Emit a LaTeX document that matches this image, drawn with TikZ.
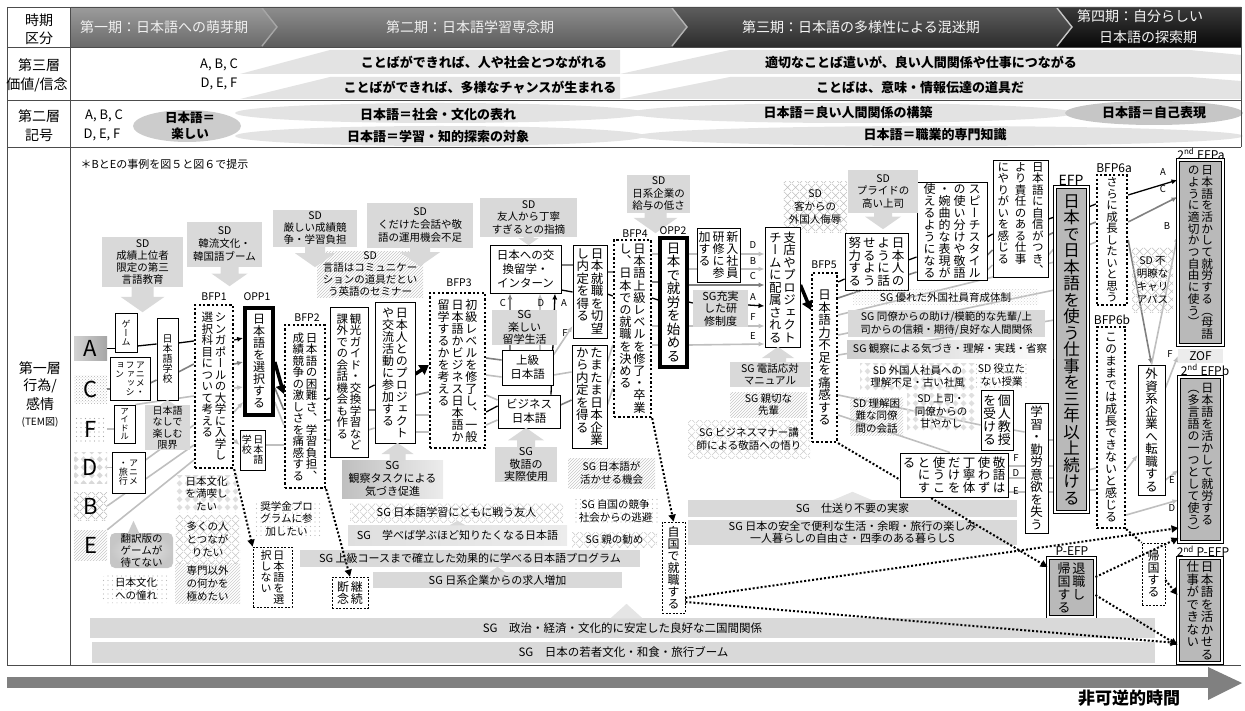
\documentclass[tikz,border=0pt]{standalone}
\usepackage{fontspec}
\setmainfont{Noto Sans CJK JP}
\newfontfamily\jv{Noto Sans CJK JP}[RawFeature=+vert]
\usetikzlibrary{arrows.meta,calc,patterns}
\pgfdeclarelayer{back}
\pgfdeclarelayer{lines}
\pgfsetlayers{back,lines,main}
\pgfdeclarepatternformonly{sdots}{\pgfpoint{-1pt}{-1pt}}{\pgfpoint{1pt}{1pt}}{\pgfpoint{4.5pt}{4.5pt}}{\pgfpathcircle{\pgfpointorigin}{0.6pt}\pgfusepath{fill}}
\pgfdeclarepatternformonly{diam}{\pgfpointorigin}{\pgfpoint{8pt}{8pt}}{\pgfpoint{8pt}{8pt}}{\pgfpathmoveto{\pgfpoint{4pt}{0.7pt}}\pgfpathlineto{\pgfpoint{7.3pt}{4pt}}\pgfpathlineto{\pgfpoint{4pt}{7.3pt}}\pgfpathlineto{\pgfpoint{0.7pt}{4pt}}\pgfpathclose\pgfusepath{fill}}
\pgfdeclarepatternformonly{xh}{\pgfpointorigin}{\pgfpoint{8pt}{8pt}}{\pgfpoint{8pt}{8pt}}{\pgfsetlinewidth{0.5pt}\pgfpathmoveto{\pgfpointorigin}\pgfpathlineto{\pgfpoint{8pt}{8pt}}\pgfpathmoveto{\pgfpoint{0pt}{8pt}}\pgfpathlineto{\pgfpoint{8pt}{0pt}}\pgfusepath{stroke}}
\definecolor{hAt}{HTML}{9C9C9C}\definecolor{hAb}{HTML}{6A6A6A}
\definecolor{hBt}{HTML}{8E8E8E}\definecolor{hBb}{HTML}{5C5C5C}
\definecolor{hCt}{HTML}{5E5E5E}\definecolor{hCb}{HTML}{2C2C2C}
\definecolor{hDt}{HTML}{3A3A3A}\definecolor{hDb}{HTML}{080808}
\colorlet{sdc}{gray!30}
\colorlet{bandc}{gray!22}
\def\vcwf{1.15}
\def\vcaux#1{\ifx\relax#1\else\hbox to \vcwf em{\hss#1\hss}\expandafter\vcaux\fi}
\newcommand\vc[1]{\vtop{\lineskiplimit=-16000pt \lineskip=0pt \vcaux#1\relax}}
\newcommand\bxn[7]{\node[#6,minimum width={(#4)-(#2)},minimum height={(#5)-(#3)}] (#1) at ({((#2)+(#4))/2},{((#3)+(#5))/2}) {#7};}
\newcommand\darr[4]{\fill[sdc] ($(#1.south)+({#2-#4},-0.5)$) -- ($(#1.south)+({#2-#4},{#3-1.4*#4})$) -- ($(#1.south)+({#2-2*#4},{#3-1.4*#4})$) -- ($(#1.south)+(#2,#3)$) -- ($(#1.south)+({#2+2*#4},{#3-1.4*#4})$) -- ($(#1.south)+({#2+#4},{#3-1.4*#4})$) -- ($(#1.south)+({#2+#4},-0.5)$) -- cycle;}
\newcommand\uarr[4]{\fill[sdc] ($(#1.north)+({#2-#4},0.5)$) -- ($(#1.north)+({#2-#4},{-(#3-1.4*#4)})$) -- ($(#1.north)+({#2-2*#4},{-(#3-1.4*#4)})$) -- ($(#1.north)+(#2,-#3)$) -- ($(#1.north)+({#2+2*#4},{-(#3-1.4*#4)})$) -- ($(#1.north)+({#2+#4},{-(#3-1.4*#4)})$) -- ($(#1.north)+({#2+#4},0.5)$) -- cycle;}
\tikzset{
 fs/.style={font=\fontsize{#1}{#1}\selectfont,inner sep=0.5pt},
 hts/.style 2 args={font=\fontsize{#1}{#2}\selectfont,align=center,inner sep=0.5pt},
 vt/.style={font=\jv\fontsize{#1}{#1}\selectfont,inner sep=0.5pt},
 wb/.style={draw,fill=white,line width=0.9pt},
 bfp/.style={draw,fill=white,line width=2.3pt,dash pattern=on 2.3pt off 2.1pt},
 opp/.style={draw,fill=white,line width=3.6pt},
 dsh/.style={draw,fill=white,line width=0.7pt,dash pattern=on 2pt off 1.5pt},
 efpst/.style={draw,fill=gray!55,double=white,double distance=1.4pt,line width=1pt},
 sdfill/.style={fill=sdc},
 lbl/.style={font=\fontsize{#1}{#1}\selectfont,inner sep=0pt},
 lA/.style={black,line width=1.3pt},
 lC/.style={gray,line width=1.6pt},
 lL/.style={gray!50,line width=1.6pt},
 atip/.style={-{Latex[length=6pt,width=5pt]}},
 bigarr/.style={black,line width=3.5pt,-{Triangle[length=9pt,width=11pt]}},
 dotl/.style={black,line width=2pt,dash pattern=on 2pt off 2pt},
 dtip/.style={-{Triangle[length=7pt,width=7pt]}},
 rowt/.style={font=\bfseries\fontsize{13}{13}\selectfont,inner sep=0pt},
 colt/.style={font=\fontsize{14}{14}\selectfont,inner sep=0pt}
}
\begin{document}
\begin{tikzpicture}[x=1pt,y=-1pt]
\useasboundingbox (0,0) rectangle (1245,711);
% ---------- background: header, rows
\begin{pgfonlayer}{back}
\shade[top color=hAt,bottom color=hAb] (71,7) -- (262,7) -- (277,27) -- (262,47) -- (71,47) -- cycle;
\shade[top color=hBt,bottom color=hBb] (262,7) -- (672,7) -- (687,27) -- (672,47) -- (262,47) -- (277,27) -- cycle;
\shade[top color=hCt,bottom color=hCb] (672,7) -- (1057,7) -- (1072,27) -- (1057,47) -- (672,47) -- (687,27) -- cycle;
\shade[top color=hDt,bottom color=hDb] (1057,7) -- (1241,7) -- (1241,47) -- (1057,47) -- (1072,27) -- cycle;
\draw[gray!70,line width=1.4pt] (262,8) -- (277,27) -- (262,46);
\draw[gray!60,line width=1.4pt] (672,8) -- (687,27) -- (672,46);
\draw[gray!45,line width=1.4pt] (1057,8) -- (1072,27) -- (1057,46);
\fill[bandc] (240,74) -- (330,50) -- (620,50) -- (620,74) -- cycle;
\fill[bandc] (620,74) -- (730,50) -- (1190,50) -- (1241,55) -- (1241,74) -- cycle;
\fill[bandc] (240,99) -- (330,77) -- (620,77) -- (620,99) -- cycle;
\fill[bandc] (620,99) -- (730,77) -- (1190,77) -- (1241,81) -- (1241,99) -- cycle;
\fill[bandc] (440,113) ellipse [x radius=205pt, y radius=10pt];
\fill[bandc] (440,136) ellipse [x radius=205pt, y radius=10pt];
\fill[bandc] (852,113) ellipse [x radius=222pt, y radius=10pt];
\fill[bandc] (940,136) ellipse [x radius=303pt, y radius=10pt];
\fill[gray!40] (187,126) ellipse [x radius=54pt, y radius=16pt];
\fill[gray!45] (1154,113) ellipse [x radius=89pt, y radius=12pt];
\draw[black!70,line width=0.8pt] (7,7) -- (1241,7) (7,47) -- (1241,47) (7,100) -- (1241,100) (7,147) -- (1241,147) (7,7) -- (7,665) -- (1241,665) (70,7) -- (70,665) (1241,7) -- (1241,147);
\fill[gray] (7,677) rectangle (1208,688);
\fill[gray] (1208,667) -- (1242,683) -- (1208,700) -- cycle;
\end{pgfonlayer}
% ---------- header texts
\node[font=\fontsize{14}{14}\selectfont,text=gray!12,anchor=west,inner sep=0pt] (ph1) at (80,27) {第一期：日本語への萌芽期};
\node[font=\fontsize{14}{14}\selectfont,text=gray!12,inner sep=0pt] (ph2) at (470,27) {第二期：日本語学習専念期};
\node[font=\fontsize{14}{14}\selectfont,text=gray!8,inner sep=0pt] (ph3) at (861,27) {第三期：日本語の多様性による混迷期};
\node[font=\fontsize{14}{14}\selectfont,text=gray!8,inner sep=0pt] (ph4a) at (1140,16) {第四期：自分らしい};
\node[font=\fontsize{14}{14}\selectfont,text=gray!8,inner sep=0pt] (ph4b) at (1148,37) {日本語の探索期};
\node[colt] (c1a) at (39,20) {時期};
\node[colt] (c1b) at (39,38) {区分};
\node[colt] (c2a) at (39,65) {第三層};
\node[colt] (c2b) at (37,85) {価値/信念};
\node[colt] (c3a) at (39,116) {第二層};
\node[colt] (c3b) at (39,135) {記号};
\node[colt] (c4a) at (40,368) {第一層};
\node[colt] (c4b) at (40,386) {行為/};
\node[colt] (c4c) at (40,404) {感情};
\node[lbl=10] (c4d) at (40,422) {(TEM図)};
% ---------- rows 3 and 2
\node[fs=13] (r3abc) at (219,65) {A, B, C};
\node[fs=13] (r3def) at (219,84) {D, E, F};
\node[rowt] (v1) at (484,62) {ことばができれば、人や社会とつながれる};
\node[rowt] (v2) at (480,88) {ことばができれば、多様なチャンスが生まれる};
\node[rowt] (v3) at (921,62) {適切なことば遣いが、良い人間関係や仕事につながる};
\node[rowt] (v4) at (920,88) {ことばは、意味・情報伝達の道具だ};
\node[fs=13] (r2abc) at (104,116) {A, B, C};
\node[fs=13] (r2def) at (102,135) {D, E, F};
\node[rowt,align=center,font=\bfseries\fontsize{12.5}{16}\selectfont] (k0) at (190,126) {日本語＝\\楽しい};
\node[rowt] (k1) at (438,115) {日本語＝社会・文化の表れ};
\node[rowt] (k2) at (438,137) {日本語＝学習・知的探索の対象};
\node[rowt] (k3) at (848,113) {日本語＝良い人間関係の構築};
\node[rowt] (k4) at (935,135) {日本語＝職業的専門知識};
\node[rowt] (k5) at (1154,113) {日本語＝自己表現};
\node[fs=11,anchor=west] (note) at (80,164) {＊BとEの事例を図５と図６で提示};
% ---------- start boxes
\bxn{sA}{74}{337}{107}{360}{left color=gray!35,right color=gray!70,fs=22}{A}
\bxn{sC}{74}{375}{107}{403}{pattern=crosshatch dots,pattern color=gray!60,fs=22}{C}
\bxn{sF}{74}{415}{107}{443}{pattern=sdots,pattern color=gray!70,fs=22}{F}
\bxn{sD}{74}{452}{107}{483}{pattern=diam,pattern color=gray!30,fs=22}{D}
\bxn{sB}{74}{492}{107}{520}{pattern=xh,pattern color=gray!55,fs=22}{B}
\bxn{sE}{74}{530}{107}{560}{pattern=north east lines,pattern color=gray!45,fs=22}{E}
% ---------- phase 1 / 2 boxes
\bxn{game}{115}{313}{137}{352}{wb,vt=9}{\vc{ゲーム}}
\bxn{anifa}{110}{357}{150}{400}{wb,vt=9}{\vc{ョン}\vc{ファッシ}\vc{アニメ・}}
\bxn{idol}{114}{405}{135}{443}{wb,vt=8.5}{\vc{アイドル}}
\bxn{anitra}{112}{452}{145}{493}{wb,vt=9}{\vc{・旅行}\vc{アニメ}}
\bxn{jls1}{157}{318}{178}{400}{wb,vt=10}{\vc{日本語学校}}
\bxn{nashi}{145}{405}{190}{450}{sdfill,hts={10}{11.5}}{日本語\\なしで\\楽しむ\\限界}
\bxn{bfp1}{195}{305}{233}{468}{bfp,vt=11.5}{\vc{選択科目について考える}\vc{シンガポールの大学に入学し}}
\bxn{opp1}{245}{308}{273}{415}{opp,vt=12}{\vc{日本語を選択する}}
\bxn{jls2}{240}{430}{265}{470}{wb,vt=10}{\vc{学校}\vc{日本語}}
\bxn{bfp2}{285}{325}{325}{488}{bfp,vt=11.5}{\vc{成績競争の激しさを痛感する}\vc{日本語の困難さ、学習負担、}}
\bxn{kanko}{330}{307}{368}{457}{wb,vt=11.5}{\vc{課外での会話機会も作る}\vc{観光ガイド・交換学習など}}
\bxn{nihonjin}{375}{302}{415}{443}{wb,vt=12}{\vc{や交流活動に参加する}\vc{日本人とのプロジェクト}}
\bxn{bfp3}{430}{293}{485}{448}{bfp,vt=12}{\vc{留学するかを考える}\vc{日本語かビジネス日本語か}\vc{初級レベルを修了し、一般}}
\bxn{koukan}{490}{245}{561}{293}{wb,hts={11.5}{14}}{日本への交\\換留学・\\インターン}
\bxn{tanoshii}{492}{310}{557}{345}{sdfill,hts={11}{12.5}}{SG\\楽しい\\留学生活}
\bxn{jokyu}{502}{350}{553}{385}{wb,hts={11.5}{14}}{上級\\日本語}
\bxn{biz}{498}{395}{560}{428}{wb,hts={11.5}{14}}{ビジネス\\日本語}
\bxn{keigosg}{495}{447}{557}{482}{sdfill,hts={11}{12.5}}{SG\\敬語の\\実際使用}
\bxn{shushoku}{573}{245}{607}{338}{wb,vt=12.5}{\vc{し内定を得る}\vc{日本就職を切望}}
\bxn{tamatama}{572}{345}{607}{448}{wb,vt=12.5}{\vc{から内定を得る}\vc{たまたま日本企業}}
\bxn{bfp4}{614}{240}{651}{417}{bfp,vt=12.2}{\vc{し、日本での就職を決める}\vc{日本語上級レベルを修了・卒業}}
\bxn{opp2}{660}{238}{687}{367}{opp,vt=13.5}{\vc{日本で就労を始める}}
% ---------- phase 3 / 4 boxes
\bxn{shinnyu}{697}{228}{740}{282}{wb,vt=12}{\vc{加する}\vc{研修に参}\vc{新入社員}}
\bxn{jujitsu}{693}{290}{748}{327}{sdfill,hts={11}{12.5}}{SG充実\\した研\\修制度}
\bxn{sd8}{783}{182}{847}{233}{pattern=xh,pattern color=gray!50,hts={10.5}{13}}{SD\\客からの\\外国人侮辱}
\bxn{shiten}{765}{227}{800}{347}{wb,vt=12.5}{\vc{チームに配属される}\vc{支店やプロジェクト}}
\bxn{bfp5}{812}{273}{837}{442}{bfp,vt=12.5}{\vc{日本語力不足を痛感する}}
\bxn{nyou}{845}{233}{908}{290}{wb,vt=12.5}{\vc{努力する}\vc{せるよう}\vc{ように話}\vc{日本人の}}
\bxn{speech}{917}{182}{987}{280}{wb,vt=12}{\def\vcwf{1.25}\vc{使えるようになる}\vc{・婉曲的な表現が}\vc{の使い分けや敬語}\vc{スピーチスタイル}}
\bxn{jishin}{993}{160}{1048}{277}{wb,vt=11.5}{\def\vcwf{1.5}\vc{にやりがいを感じる}\vc{より責任のある仕事}\vc{日本語に自信がつき、}}
\bxn{efp}{1055}{187}{1088}{512}{efpst,vt=16.5}{\vc{日本で日本語を使う仕事を三年以上続ける}}
\bxn{bfp6a}{1097}{175}{1127}{305}{bfp,vt=11.5}{\vc{さらに成長したいと思う}}
\bxn{efpa}{1178}{160}{1223}{345}{efpst,vt=11.7}{\vc{のように適切かつ自由に使う）}\vc{日本語を活かして就労する（母語}}
\bxn{sdcareer}{1132}{248}{1173}{313}{pattern=xh,pattern color=gray!50,hts={10.5}{13}}{SD 不\\明瞭な\\キャリ\\アパス}
\bxn{bfp6b}{1097}{327}{1125}{528}{bfp,vt=12}{\vc{このままでは成長できないと感じる}}
\bxn{gaishi}{1138}{365}{1165}{495}{wb,vt=12.5}{\vc{外資系企業へ転職する}}
\bxn{zof}{1178}{349}{1223}{363}{fill=gray!15,fs=12}{ZOF}
\bxn{efpb}{1179}{377}{1222}{542}{efpst,vt=12}{\vc{（多言語の一つとして使う）}\vc{日本語を活かして就労する}}
\bxn{gakushu}{1025}{403}{1048}{533}{wb,vt=12.5}{\vc{学習・勤労意欲を失う}}
\bxn{kojin}{981}{390}{1013}{450}{wb,vt=13}{\vc{を受ける}\vc{個人教授}}
\bxn{pefp}{1048}{558}{1095}{617}{efpst,vt=13}{\vc{帰国する}\vc{退職し}}
\bxn{kikoku}{1142}{543}{1165}{605}{dsh,vt=12}{\vc{帰国する}}
\bxn{p2efp}{1178}{558}{1222}{663}{efpst,vt=12.5}{\vc{仕事ができない}\vc{日本語を活かせる}}
\bxn{jikoku}{662}{522}{685}{613}{dsh,vt=12}{\vc{自国で就職する}}
\bxn{dannen}{332}{577}{368}{608}{dsh,vt=12}{\vc{断念}\vc{継続}}
\bxn{sentaku}{253}{547}{292}{607}{dsh,vt=11}{\vc{択しない}\vc{日本語を選}}
% ---------- SD / SG boxes
\bxn{sd1}{102}{237}{183}{287}{sdfill,hts={10.5}{12}}{SD\\成績上位者\\限定の第三\\言語教育}
\bxn{sd2}{187}{222}{262}{267}{sdfill,hts={10.5}{13}}{SD\\韓流文化・\\韓国語ブーム}
\bxn{sd3}{273}{210}{357}{247}{sdfill,hts={10.5}{12}}{SD\\厳しい成績競\\争・学習負担}
\bxn{sd4}{367}{203}{473}{248}{sdfill,hts={10.5}{13}}{SD\\くだけた会話や敬\\語の運用機会不足}
\bxn{sd5}{317}{252}{423}{297}{pattern=north east lines,pattern color=gray!45,hts={10.5}{12}}{SD\\言語はコミュニケー\\ションの道具だとい\\う英語のセミナー}
\bxn{sd6}{480}{198}{577}{237}{sdfill,hts={10.5}{12.5}}{SD\\友人から丁寧\\すぎるとの指摘}
\bxn{sd7}{627}{175}{690}{213}{sdfill,hts={10.5}{12.5}}{SD\\日系企業の\\給与の低さ}
\bxn{sd9}{848}{170}{918}{213}{sdfill,hts={10.5}{12.5}}{SD\\プライドの\\高い上司}
\bxn{kansatsu}{342}{460}{443}{498}{left color=gray!50,right color=gray!15,hts={11}{13}}{SG\\観察タスクによる\\気づき促進}
\bxn{tomo}{350}{503}{563}{522}{pattern=xh,pattern color=gray!45,fs=11}{SG\ 日本語学習にともに戦う友人}
\bxn{manabu}{348}{525}{567}{545}{left color=gray!25,middle color=gray!50,right color=gray!15,fs=11}{SG\quad 学べば学ぶほど知りたくなる日本語}
\bxn{jokyuband}{300}{550}{640}{567}{sdfill,fs=11}{SG\ 上級コースまで確立した効果的に学べる日本語プログラム}
\bxn{kyujin}{373}{572}{622}{588}{sdfill,fs=11}{SG\ 日系企業からの求人増加}
\bxn{ikaseru}{568}{458}{655}{488}{pattern=north east lines,pattern color=gray!45,hts={10.5}{13}}{SG 日本語が\\活かせる機会}
\bxn{kyoso}{573}{498}{658}{525}{pattern=sdots,pattern color=gray!60,hts={10.5}{13}}{SG 自国の競争\\社会からの逃避}
\bxn{oya}{572}{532}{657}{547}{pattern=xh,pattern color=gray!45,fs=10.5}{SG\ 親の勧め}
\bxn{mankitsu}{175}{475}{238}{512}{pattern=diam,pattern color=gray!25,hts={10.5}{12.5}}{日本文化\\を満喫し\\たい}
\bxn{tsunagari}{175}{515}{240}{563}{pattern=xh,pattern color=gray!45,hts={10.5}{13}}{多くの人\\とつなが\\りたい}
\bxn{senmon}{175}{563}{240}{603}{pattern=north east lines,pattern color=gray!40,hts={10.5}{13}}{専門以外\\の何かを\\極めたい}
\bxn{honyaku}{110}{533}{173}{568}{rounded corners=5pt,inner color=gray!20,outer color=gray!45,hts={10.5}{12}}{翻訳版の\\ゲームが\\待てない}
\bxn{akogare}{102}{575}{170}{603}{rounded corners=5pt,pattern=sdots,pattern color=gray!55,hts={10.5}{13}}{日本文化\\への憧れ}
\bxn{shogaku}{253}{500}{320}{537}{pattern=sdots,pattern color=gray!55,hts={10.5}{12.5}}{奨学金プロ\\グラムに参\\加したい}
\bxn{denwa}{730}{362}{810}{387}{sdfill,hts={10.5}{12.5}}{SG 電話応対\\マニュアル}
\bxn{shinsetsu}{730}{392}{807}{417}{pattern=north east lines,pattern color=gray!45,hts={10.5}{12.5}}{SG 親切な\\先輩}
\bxn{manner}{688}{420}{810}{458}{pattern=xh,pattern color=gray!40,hts={10.5}{13}}{SG ビジネスマナー講\\師による敬語への悟り}
\bxn{sugureta}{853}{290}{1038}{305}{pattern=crosshatch dots,pattern color=gray!35,fs=10.5}{SG\ 優れた外国社員育成体制}
\bxn{doryo}{848}{310}{1045}{337}{sdfill,hts={10.5}{12.5}}{SG 同僚からの助け/模範的な先輩/上\\司からの信頼・期待/良好な人間関係}
\bxn{kizuki}{847}{340}{1053}{358}{left color=gray!40,right color=white,fs=10.5}{SG\ 観察による気づき・理解・実践・省察}
\bxn{rikai}{860}{363}{975}{390}{pattern=diam,pattern color=gray!25,hts={10.5}{12.5}}{SD 外国人社員への\\理解不足・古い社風}
\bxn{yakudata}{975}{363}{1028}{387}{pattern=sdots,pattern color=gray!55,hts={10.5}{12.5}}{SD 役立た\\ない授業}
\bxn{konnan}{850}{397}{903}{435}{pattern=north east lines,pattern color=gray!40,hts={10.5}{12.5}}{SD 理解困\\難な同僚\\間の会話}
\bxn{amayakashi}{907}{393}{975}{430}{pattern=diam,pattern color=gray!25,hts={10.5}{12.5}}{SD 上司・\\同僚からの\\甘やかし}
\bxn{shiokuri}{688}{500}{1017}{517}{sdfill,fs=11}{SG\quad 仕送り不要の実家}
\bxn{anzen}{688}{520}{1017}{545}{sdfill,hts={11}{12.5}}{SG 日本の安全で便利な生活・余暇・旅行の楽しみ\\一人暮らしの自由さ・四季のある暮らしS}
\bxn{seiji}{90}{618}{1155}{638}{sdfill,fs=11.5}{SG\quad 政治・経済・文化的に安定した良好な二国間関係}
\bxn{wakamono}{92}{642}{1155}{663}{sdfill,fs=11.5}{SG\quad 日本の若者文化・和食・旅行ブーム}
% ---------- block arrows of SD / SG
\darr{sd1}{0}{25}{11}
\darr{sd2}{5}{19}{9}
\darr{sd3}{0}{20}{10}
\darr{sd4}{0}{18}{10}
\darr{sd6}{0}{8}{5}
\darr{sd7}{-3}{20}{11}
\darr{sd9}{0}{16}{9}
\uarr{keigosg}{0}{19}{9}
\uarr{kansatsu}{5}{17}{8}
\uarr{denwa}{8}{15}{8}
\fill[sdc] ($(nashi.north)+(-8,0.5)$) -- ($(nashi.north)+(0,-5)$) -- ($(nashi.north)+(8,0.5)$) -- cycle;
\fill[gray!40] ($(honyaku.north)+(-14,1)$) -- ($(honyaku.north)+(-8,-12)$) -- ($(honyaku.north)+(-2,1)$) -- cycle;
\fill[sdc] ($(manabu.north)+(-8,0.5)$) -- ($(manabu.north)+(0,-4)$) -- ($(manabu.north)+(8,0.5)$) -- cycle;
\fill[sdc] ($(kyujin.north)+(-8,0.5)$) -- ($(kyujin.north)+(0,-5)$) -- ($(kyujin.north)+(8,0.5)$) -- cycle;
\fill[gray!20] ($(seiji.north)+(-12,0.5)$) -- ($(seiji.north)+(4,-14)$) -- ($(seiji.north)+(20,0.5)$) -- cycle;
\fill[gray!20] ($(shiokuri.north)+(-20,0.5)$) -- ($(shiokuri.north)+(0,-8)$) -- ($(shiokuri.north)+(20,0.5)$) -- cycle;
% ---------- labels
\node[lbl=10.5] (lbfp1) at (214,297) {BFP1};
\node[lbl=10.5] (lopp1) at (257,297) {OPP1};
\node[lbl=10.5] (lbfp2) at (307,318) {BFP2};
\node[lbl=10.5] (lbfp3) at (459,283) {BFP3};
\node[lbl=10.5] (lbfp4) at (635,234) {BFP4};
\node[lbl=10.5] (lopp2) at (673,231) {OPP2};
\node[lbl=10.5] (lbfp5) at (824,265) {BFP5};
\node[lbl=14] (lefp) at (1071,180) {EFP};
\node[lbl=12] (lbfp6a) at (1114,168) {BFP6a};
\node[lbl=12] (lbfp6b) at (1112,320) {BFP6b};
\node[lbl=12] (l2a) at (1201,154) {2\textsuperscript{nd} EFPa};
\node[lbl=12] (l2b) at (1205,370) {2\textsuperscript{nd} EFPb};
\node[lbl=12] (lpefp) at (1072,551) {P-EFP};
\node[lbl=12] (l2p) at (1203,551) {2\textsuperscript{nd} P-EFP};
\node[lbl=9.5] (aC1) at (503,303) {C};
\node[lbl=9.5] (aD1) at (541,303) {D};
\node[lbl=9.5] (aA1) at (564,303) {A};
\node[lbl=9.5] (aF1) at (565,333) {F};
\node[lbl=9.5] (aD2) at (753,245) {D};
\node[lbl=9.5] (aB2) at (753,261) {B};
\node[lbl=9.5] (aC2) at (753,276) {C};
\node[lbl=9.5] (aA2) at (753,297) {A};
\node[lbl=9.5] (aF2) at (753,317) {F};
\node[lbl=9.5] (aE2) at (753,336) {E};
\node[lbl=9.5] (aA3) at (1163,172) {A};
\node[lbl=9.5] (aC3) at (1163,189) {C};
\node[lbl=9.5] (aB3) at (1167,226) {B};
\node[lbl=9.5] (aF3) at (1170,354) {F};
\node[lbl=9.5] (aE3) at (1172,480) {E};
\node[lbl=9.5] (aD3) at (1172,508) {D};
\node[lbl=9.5] (aF4) at (1016,458) {F};
\node[lbl=9.5] (aD4) at (1016,473) {D};
\node[lbl=9.5] (aE4) at (1016,491) {E};
\node[font=\bfseries\fontsize{17}{17}\selectfont,inner sep=0pt] (jikan) at (1129,698) {非可逆的時間};
% ---------- dotted connectors
\draw[dotl,dtip] (bfp1.south east) -- (sentaku.north west);
\draw[dotl,dtip] (bfp2.south east) -- (dannen.north);
\draw[dotl,dtip] (bfp4.south east) -- (jikoku.north);
\draw[dotl,dtip] (jikoku.east |- 0,598) -- (efpb.west |- 0,528);
\draw[dotl,dtip] (jikoku.east |- 0,602) -- (p2efp.west |- 0,643);
\draw[dotl,dtip] (bfp5.south east) -- (pefp.west |- 0,567);
\draw[dotl,dtip] (pefp.east |- 0,577) -- (efpb.west |- 0,538);
\draw[dotl,dtip] (pefp.east |- 0,595) -- (p2efp.west |- 0,645);
\draw[dotl] (bfp6b.south east) -- (kikoku.north west);
\draw[dotl,dtip] (kikoku.east |- 0,580) -- (p2efp.west |- 0,595);
\bxn{keigo}{900}{453}{1008}{497}{wb,vt=12.5}{\def\vcwf{1.2}\vc{る}\vc{とにす}\vc{使うこ}\vc{だけを}\vc{丁寧体}\vc{使わず}\vc{敬語は}}
% ---------- path connectors
\begin{pgfonlayer}{lines}
\draw[lA] (sA.east) -- (game.west |- sA.east);
\draw[lA] (game.east |- 0,346) -- (jls1.west |- 0,344);
\draw[lA] (jls1.east |- 0,343) -- (bfp1.west |- 0,341);
\draw[lA,atip] (bfp1.east |- 0,340) -- (opp1.west |- 0,338);
\draw[bigarr] (opp1.east |- 0,362) -- (bfp2.west |- 0,394);
\draw[lA] (bfp2.east |- 0,400) -- (kanko.west |- 0,398);
\draw[lA] (kanko.east |- 0,388) -- (nihonjin.west |- 0,385);
\draw[bigarr] (nihonjin.east |- 0,374) -- (bfp3.west |- 0,365);
\draw[lA] (bfp3.east |- 0,412) -- (biz.west |- 0,406);
\draw[lA,atip] (biz.north -| 551,0) -- (koukan.south -| 555,0);
\draw[lA] (koukan.east |- 0,290) -- (shushoku.west |- 0,292);
\draw[lA] (shushoku.east |- 0,294) -- (bfp4.west |- 0,296);
\draw[lA] (bfp4.east |- 0,298) -- (opp2.west |- 0,300);
\draw[lA] (opp2.east |- 0,302) -- (jujitsu.west |- 0,303);
\draw[lA,atip] (jujitsu.east |- 0,305) -- (shiten.west |- 0,306);
\draw[bigarr] (shiten.east |- 0,285) -- (bfp5.west |- 0,310);
\draw[lA] (bfp5.east |- 0,282) -- (nyou.west |- 0,279);
\draw[lA] (nyou.east |- 0,260) -- (speech.west |- 0,257);
\draw[lA] (speech.east |- 0,237) -- (jishin.west |- 0,234);
\draw[lA] (jishin.east |- 0,219) -- (efp.west |- 0,217);
\draw[lA] (efp.east |- 0,207) -- (bfp6a.west |- 0,204);
\draw[lA,atip] (bfp6a.east |- 0,195) -- (efpa.west |- 0,180);
\draw[lC] (sC.east) -- (anifa.west |- sC.east);
\draw[lC] (anifa.east |- 0,383) -- (jls1.west |- 0,380);
\draw[lC] (jls1.east |- 0,372) -- (bfp1.west |- 0,364);
\draw[lC,atip] (bfp1.east |- 0,364) -- (opp1.west |- 0,362);
\draw[lL] (sF.east) -- (idol.west |- sF.east);
\draw[lL] (idol.north east) -- (bfp1.west |- 0,396);
\draw[lL] (sD.east) -- (anitra.west |- sD.east);
\draw[lL] (anitra.east |- 0,460) -- (bfp1.west |- 0,425);
\draw[lL] (sB.east) -- (bfp1.west |- 0,445);
\draw[lL] (sE.north east) -- (bfp1.west |- 0,460);
\draw[lL,atip] (bfp1.east |- 0,388) -- (opp1.west |- 0,387);
\draw[lL,atip] (bfp1.east |- 0,412) -- (opp1.west |- 0,402);
\draw[lL,atip] (bfp1.east |- 0,440) -- (jls2.west |- 0,445);
\draw[lC] (opp1.east |- 0,388) -- (bfp2.west |- 0,410);
\draw[lL] (opp1.east |- 0,402) -- (bfp2.west |- 0,425);
\draw[lL] (jls2.east |- 0,445) -- (bfp2.west |- 0,445);
\draw[lC] (bfp2.east |- 0,420) -- (kanko.west |- 0,420);
\draw[lL] (bfp2.east |- 0,440) -- (kanko.west |- 0,440);
\draw[lC] (kanko.east |- 0,410) -- (nihonjin.west |- 0,410);
\draw[lL] (kanko.east |- 0,430) -- (nihonjin.west |- 0,428);
\draw[lC] (nihonjin.east |- 0,395) -- (bfp3.west |- 0,392);
\draw[lL] (nihonjin.east |- 0,415) -- (bfp3.west |- 0,415);
\draw[lL] (nihonjin.east |- 0,432) -- (bfp3.west |- 0,432);
\draw[lC] (bfp3.east |- 0,358) -- (jokyu.west |- 0,360);
\draw[lL] (bfp3.east |- 0,375) -- (jokyu.west |- 0,377);
\draw[lL] (bfp3.east |- 0,395) -- (biz.west |- 0,400);
\draw[lL] (bfp3.east |- 0,425) -- (biz.west |- 0,420);
\draw[lC,atip] (jokyu.north -| 510,0) -- (koukan.south -| 510,0);
\draw[lL,atip] (jokyu.north -| 540,0) -- (koukan.south -| 540,0);
\draw[lC] (koukan.east |- 0,265) -- (shushoku.west |- 0,265);
\draw[lL,atip] (jokyu.east |- 0,355) -- (shushoku.west |- 0,326);
\draw[lL] (jokyu.east |- 0,375) -- (tamatama.west |- 0,372);
\draw[lC] (biz.east |- 0,405) -- (tamatama.west |- 0,400);
\draw[lC] (shushoku.east |- 0,272) -- (bfp4.west |- 0,272);
\draw[lL] (tamatama.east |- 0,362) -- (bfp4.west |- 0,345);
\draw[lL] (tamatama.east |- 0,385) -- (bfp4.west |- 0,368);
\draw[lL] (tamatama.east |- 0,405) -- (bfp4.west |- 0,388);
\draw[lL] (bfp4.east |- 0,254) -- (opp2.west |- 0,254);
\draw[lC] (bfp4.east |- 0,282) -- (opp2.west |- 0,282);
\draw[lL] (bfp4.east |- 0,326) -- (opp2.west |- 0,326);
\draw[lL] (bfp4.east |- 0,345) -- (opp2.west |- 0,345);
\draw[lL] (opp2.east |- 0,254) -- (shinnyu.west |- 0,254);
\draw[lL] (opp2.east |- 0,269) -- (shinnyu.west |- 0,269);
\draw[lL,atip] (shinnyu.east |- 0,254) -- (shiten.west |- 0,254);
\draw[lL,atip] (shinnyu.east |- 0,269) -- (shiten.west |- 0,269);
\draw[lC,atip] (opp2.east |- 0,285) -- (shiten.west |- 0,285);
\draw[lL,atip] (opp2.east |- 0,326) -- (shiten.west |- 0,326);
\draw[lL,atip] (opp2.east |- 0,345) -- (shiten.west |- 0,344);
\draw[lC] (bfp5.east |- 0,298) -- (speech.west |- 0,272);
\draw[lL] (bfp5.east |- 0,315) -- (efp.west |- 0,262);
\draw[lL] (bfp5.east |- 0,335) -- (efp.west |- 0,290);
\draw[lL] (bfp5.east |- 0,355) -- (efp.west |- 0,320);
\draw[lL] (bfp5.east |- 0,395) -- (kojin.west |- 0,425);
\draw[lL] (bfp5.east |- 0,415) -- (keigo.north -| 950,0);
\draw[lC] (speech.east |- 0,255) -- (jishin.west |- 0,250);
\draw[lL] (speech.east |- 0,270) -- (jishin.west |- 0,265);
\draw[lC] (jishin.east |- 0,235) -- (efp.west |- 0,232);
\draw[lL] (jishin.east |- 0,255) -- (efp.west |- 0,248);
\draw[lL] (kojin.east |- 0,430) -- (gakushu.west |- 0,432);
\draw[lL] (gakushu.east |- 0,440) -- (efp.west |- 0,440);
\draw[lL] (keigo.east |- 0,466) -- (efp.west |- 0,466);
\draw[lL] (keigo.east |- 0,478) -- (efp.west |- 0,478);
\draw[lL] (keigo.east |- 0,492) -- (efp.west |- 0,492);
\draw[lC] (efp.east |- 0,225) -- (bfp6a.west |- 0,222);
\draw[lL] (efp.east |- 0,245) -- (bfp6a.west |- 0,242);
\draw[lC,atip] (bfp6a.east |- 0,222) -- (efpa.west |- 0,197);
\draw[lC,atip] (bfp6a.east |- 0,240) -- (gaishi.north);
\draw[lL,atip] (gaishi.north) -- (efpa.west |- 0,236);
\draw[lL] (efp.east |- 0,470) -- (bfp6b.west |- 0,468);
\draw[lL] (efp.east |- 0,490) -- (bfp6b.west |- 0,490);
\draw[lL,atip] (bfp6b.east |- 0,470) -- (gaishi.west |- 0,455);
\draw[lL,atip] (gaishi.east |- 0,388) -- (zof.west);
\draw[lL,atip] (gaishi.east |- 0,480) -- (efpb.west |- 0,470);
\draw[lL,atip] (bfp6b.east |- 0,515) -- (efpb.west |- 0,500);
\end{pgfonlayer}
\end{tikzpicture}
\end{document}
